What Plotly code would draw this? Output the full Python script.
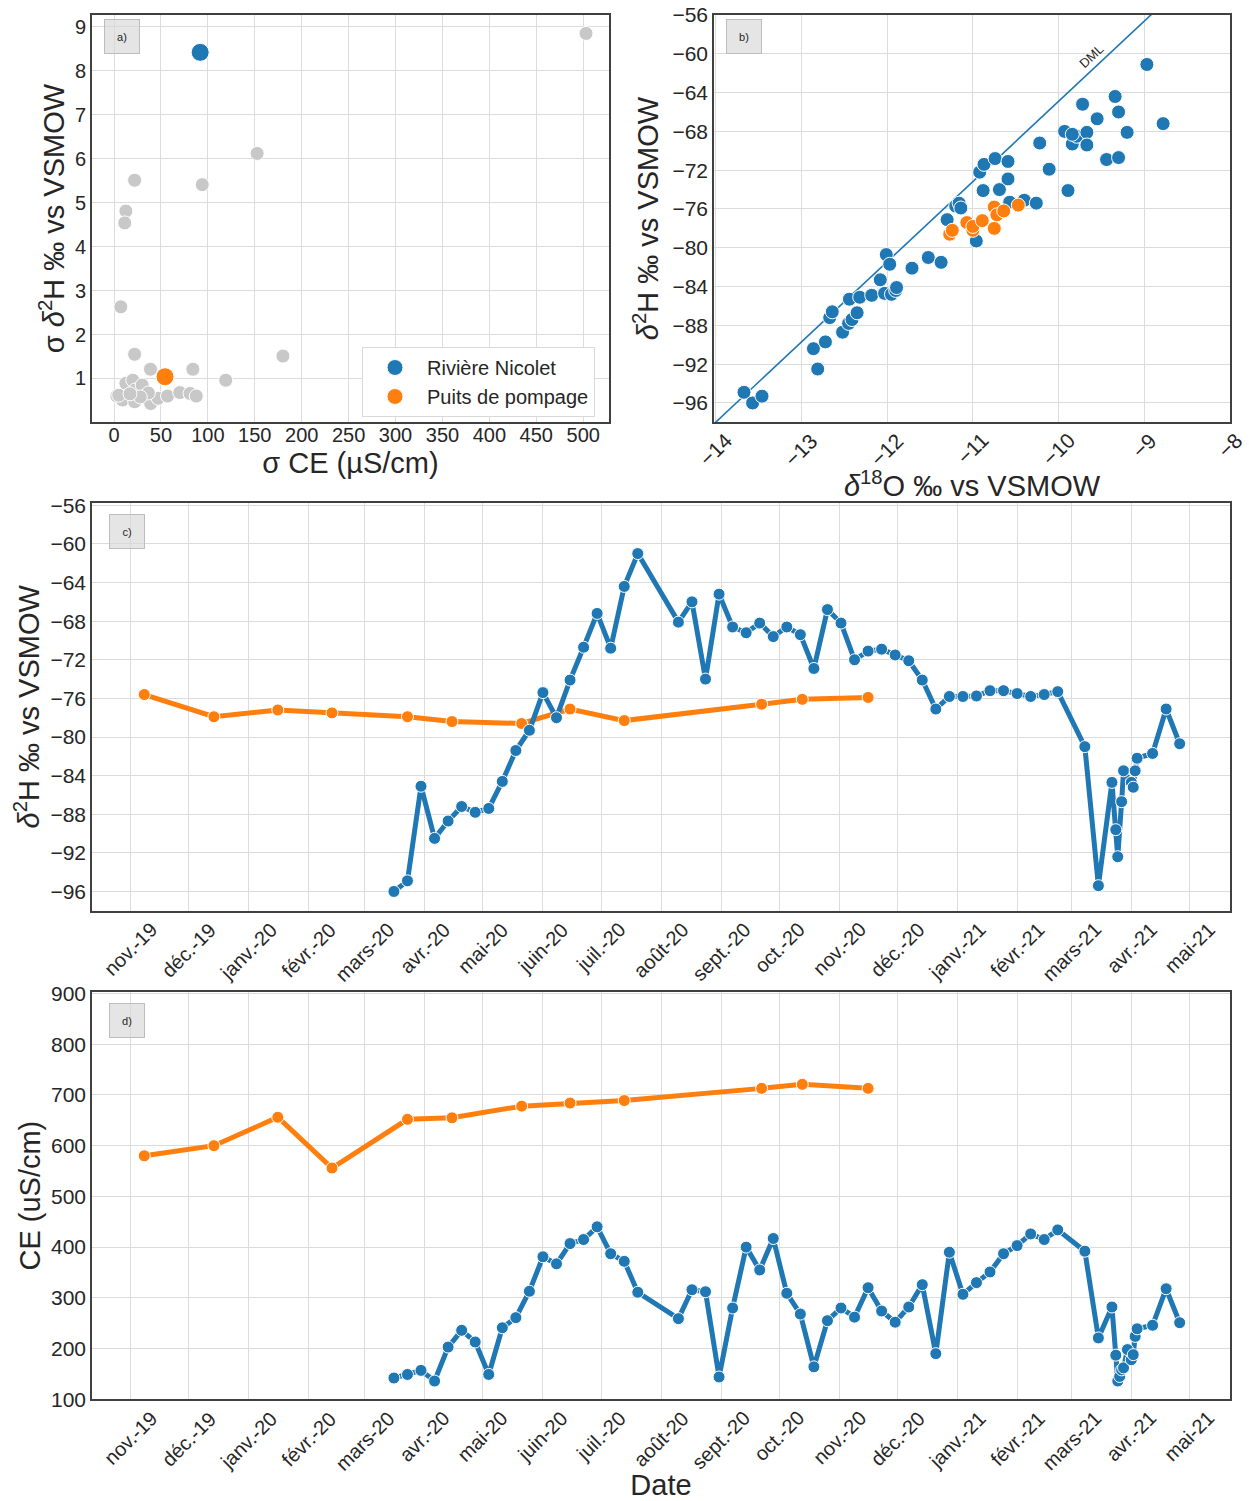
import plotly.graph_objects as go

# ---------------- data ----------------
# a) standard deviations per site (sigma CE, sigma d2H)
other_sd_ce = [503, 152.5, 21.9, 94, 12.6, 11.4, 7.2, 21.9, 180, 38.8, 84, 119,
               3, 12.6, 20, 22.7, 30, 11, 9, 22, 39, 47, 57, 70, 81, 87.6, 36.6, 28, 5, 17]
other_sd_h2 = [8.85, 6.12, 5.51, 5.41, 4.81, 4.54, 2.63, 1.55, 1.51, 1.21, 1.21, 0.96,
               0.60, 0.89, 0.96, 0.74, 0.85, 0.58, 0.51, 0.47, 0.43, 0.55, 0.60, 0.68, 0.66, 0.60, 0.67, 0.58, 0.62, 0.65]
river_sd_ce = [91.8]
river_sd_h2 = [8.42]
well_sd_ce = [54.3]
well_sd_h2 = [1.04]

# b) d18O / d2H pairs
river_o18 = [-13.67, -13.57, -13.46, -12.86, -12.72, -12.81, -12.67, -12.64, -12.52, -12.45,
             -12.41, -12.35, -12.44, -12.32, -12.18, -12.08, -12.01, -11.97, -12.03, -11.95,
             -11.90, -11.89, -11.71, -11.52, -11.37, -11.30, -11.20, -11.16, -11.14, -10.96,
             -10.92, -10.87, -10.74, -10.88, -10.69, -10.59, -10.59, -10.57, -10.40, -10.26,
             -10.22, -10.11, -9.93, -9.89, -9.84, -9.79, -9.84, -9.72, -9.67, -9.67,
             -9.55, -9.44, -9.34, -9.30, -9.30, -9.20, -8.97, -8.78]
river_h2 = [-94.9, -96.0, -95.3, -90.4, -89.7, -92.5, -87.2, -86.6, -88.7, -87.8,
            -87.4, -86.7, -85.3, -85.1, -84.9, -83.3, -80.7, -81.7, -84.7, -84.8,
            -84.4, -84.1, -82.1, -81.0, -81.5, -77.1, -75.7, -75.4, -75.9, -79.3,
            -72.2, -71.4, -70.8, -74.1, -74.0, -71.1, -72.9, -75.3, -75.1, -75.4,
            -69.2, -71.9, -68.0, -74.1, -69.3, -68.5, -68.3, -65.2, -68.1, -69.4,
            -66.7, -70.9, -64.4, -66.0, -70.7, -68.1, -61.1, -67.2]
well_o18 = [-11.27, -11.24, -11.07, -11.00, -11.00, -10.89, -10.75, -10.75, -10.72, -10.64, -10.47]
well_h2 = [-78.6, -78.2, -77.4, -78.2, -77.8, -77.2, -78.0, -75.8, -76.6, -76.2, -75.6]
o18_ticks = [-14, -13, -12, -11, -10, -9, -8]

# local meteoric water line (DML)
dml_slope = 8.27
dml_intercept = 17.8

# c) / d) time series
river_dates = ["2020-03-16", "2020-03-23", "2020-03-30", "2020-04-06", "2020-04-13", "2020-04-20",
               "2020-04-27", "2020-05-04", "2020-05-11", "2020-05-18", "2020-05-25", "2020-06-01",
               "2020-06-08", "2020-06-15", "2020-06-22", "2020-06-29", "2020-07-06", "2020-07-13",
               "2020-07-20", "2020-08-10", "2020-08-17", "2020-08-24", "2020-08-31", "2020-09-07",
               "2020-09-14", "2020-09-21", "2020-09-28", "2020-10-05", "2020-10-12", "2020-10-19",
               "2020-10-26", "2020-11-02", "2020-11-09", "2020-11-16", "2020-11-23", "2020-11-30",
               "2020-12-07", "2020-12-14", "2020-12-21", "2020-12-28", "2021-01-04", "2021-01-11",
               "2021-01-18", "2021-01-25", "2021-02-01", "2021-02-08", "2021-02-15", "2021-02-22",
               "2021-03-08", "2021-03-15", "2021-03-22", "2021-03-24", "2021-03-25", "2021-03-26",
               "2021-03-27", "2021-03-28", "2021-03-30", "2021-04-01", "2021-04-02", "2021-04-03",
               "2021-04-04", "2021-04-12", "2021-04-19", "2021-04-26"]
river_h2_ts = [-96.0, -94.9, -85.1, -90.5, -88.7, -87.2,
               -87.8, -87.4, -84.6, -81.4, -79.3, -75.4,
               -78.0, -74.1, -70.7, -67.2, -70.8, -64.4,
               -61.0, -68.1, -66.0, -74.0, -65.2, -68.6,
               -69.2, -68.2, -69.6, -68.6, -69.4, -72.9,
               -66.8, -68.2, -72.0, -71.1, -70.9, -71.5,
               -72.1, -74.1, -77.1, -75.8, -75.8, -75.75,
               -75.2, -75.2, -75.5, -75.8, -75.6, -75.3,
               -81.0, -95.4, -84.7, -89.6, -92.4, None,
               -86.7, -83.5, None, -84.7, -85.2, -83.5,
               -82.2, -81.7, -77.1, -80.7]
river_ce_ts = [142, 149, 157, 136, 203, 236,
               213, 149, 241, 261, 313, 381,
               367, 407, 415, 440, 387, 372,
               311, 259, 316, 312, 144, 280,
               400, 355, 417, 309, 268, 164,
               255, 280, 262, 320, 274, 252,
               282, 326, 190, 390, 307, 330,
               351, 387, 403, 426, 415, 434,
               392, 221, 282, 187, 136, 145,
               158, 162, 198, 178, 188, 224,
               239, 246, 318, 251]

well_dates = ["2019-11-08", "2019-12-14", "2020-01-16", "2020-02-13", "2020-03-23", "2020-04-15",
              "2020-05-21", "2020-06-15", "2020-07-13", "2020-09-22", "2020-10-13", "2020-11-16"]
well_h2_ts = [-75.6, -77.9, -77.2, -77.5, -77.9, -78.4, -78.6, -77.1, -78.3, -76.6, -76.1, -75.9]
well_ce_ts = [580, 600, 656, 556, 652, 655, 678, 684, 689, 713, 721, 713]

month_ticks = ["2019-11-01", "2019-12-01", "2020-01-01", "2020-02-01", "2020-03-01", "2020-04-01",
               "2020-05-01", "2020-06-01", "2020-07-01", "2020-08-01", "2020-09-01", "2020-10-01",
               "2020-11-01", "2020-12-01", "2021-01-01", "2021-02-01", "2021-03-01", "2021-04-01",
               "2021-05-01"]
month_labels = ["nov.-19", "déc.-19", "janv.-20", "févr.-20", "mars-20", "avr.-20", "mai-20",
                "juin-20", "juil.-20", "août-20", "sept.-20", "oct.-20", "nov.-20", "déc.-20",
                "janv.-21", "févr.-21", "mars-21", "avr.-21", "mai-21"]

# ---------------- style ----------------
BLUE = "#1f77b4"
ORANGE = "#ff7f0e"
GREY = "#c8c8c8"
TXT = "#262626"
FONT = "Liberation Sans, Arial, sans-serif"
W, H = 1249, 1501


def dom_x(x0, x1):
    return [x0 / W, x1 / W]


def dom_y(y0, y1):
    return [1 - y1 / H, 1 - y0 / H]


def axis_style(**kw):
    base = dict(showgrid=True, gridcolor="#dcdcdc", gridwidth=1, zeroline=False,
                showline=True, mirror=True, linecolor="#404040", linewidth=1.6,
                ticks="", automargin=False,
                tickfont=dict(family=FONT, size=20, color=TXT),
                title_font=dict(family=FONT, size=29, color=TXT))
    base.update(kw)
    return base


fig = go.Figure()

# a) scatter of standard deviations
fig.add_trace(go.Scatter(x=other_sd_ce, y=other_sd_h2, mode="markers", xaxis="x", yaxis="y",
                         marker=dict(size=14, color=GREY, line=dict(color="white", width=1)),
                         showlegend=False))
fig.add_trace(go.Scatter(x=river_sd_ce, y=river_sd_h2, mode="markers", xaxis="x", yaxis="y",
                         name="Rivière Nicolet",
                         marker=dict(size=18, color=BLUE, line=dict(color="white", width=1))))
fig.add_trace(go.Scatter(x=well_sd_ce, y=well_sd_h2, mode="markers", xaxis="x", yaxis="y",
                         name="Puits de pompage",
                         marker=dict(size=18, color=ORANGE, line=dict(color="white", width=1))))

# b) dual isotope plot with DML
b_xrange = [-14.02, -8.0]
fig.add_trace(go.Scatter(x=b_xrange, y=[dml_slope * v + dml_intercept for v in b_xrange],
                         mode="lines", xaxis="x2", yaxis="y2", showlegend=False,
                         line=dict(color=BLUE, width=1.6)))
fig.add_trace(go.Scatter(x=river_o18, y=river_h2, mode="markers", xaxis="x2", yaxis="y2",
                         showlegend=False,
                         marker=dict(size=14, color=BLUE, line=dict(color="white", width=1))))
fig.add_trace(go.Scatter(x=well_o18, y=well_h2, mode="markers", xaxis="x2", yaxis="y2",
                         showlegend=False,
                         marker=dict(size=14, color=ORANGE, line=dict(color="white", width=1))))

# c) d2H time series
fig.add_trace(go.Scatter(x=well_dates, y=well_h2_ts, mode="lines+markers", xaxis="x3", yaxis="y3",
                         showlegend=False, line=dict(color=ORANGE, width=5),
                         marker=dict(size=12, color=ORANGE, line=dict(color="white", width=1))))
fig.add_trace(go.Scatter(x=river_dates, y=river_h2_ts, mode="lines+markers", xaxis="x3", yaxis="y3",
                         showlegend=False, connectgaps=True, line=dict(color=BLUE, width=5),
                         marker=dict(size=12, color=BLUE, line=dict(color="white", width=1))))

# d) CE time series
fig.add_trace(go.Scatter(x=well_dates, y=well_ce_ts, mode="lines+markers", xaxis="x4", yaxis="y4",
                         showlegend=False, line=dict(color=ORANGE, width=5),
                         marker=dict(size=12, color=ORANGE, line=dict(color="white", width=1))))
fig.add_trace(go.Scatter(x=river_dates, y=river_ce_ts, mode="lines+markers", xaxis="x4", yaxis="y4",
                         showlegend=False, connectgaps=True, line=dict(color=BLUE, width=5),
                         marker=dict(size=12, color=BLUE, line=dict(color="white", width=1))))

date_range = ["2019-10-12", "2021-05-22"]
d2h_title = "<i>δ</i><sup>2</sup>H ‰ vs VSMOW"

fig.update_layout(
    width=W, height=H,
    margin=dict(l=0, r=0, t=0, b=0),
    paper_bgcolor="white", plot_bgcolor="white",
    font=dict(family=FONT, color=TXT),
    xaxis=axis_style(domain=dom_x(92, 609), anchor="y", range=[-23.5, 527.5],
                     tickvals=list(range(0, 501, 50)), ticklabelstandoff=-6,
                     title=dict(text="σ CE (µS/cm)", standoff=8)),
    yaxis=axis_style(domain=dom_y(15, 422), anchor="x", range=[0.01, 9.27],
                     tickvals=list(range(1, 10)),
                     title=dict(text="σ " + d2h_title, standoff=2)),
    xaxis2=axis_style(domain=dom_x(714, 1230), anchor="y2", range=b_xrange,
                      tickvals=o18_ticks, showticklabels=False,
                      title=dict(text="<i>δ</i><sup>18</sup>O ‰ vs VSMOW", standoff=53)),
    yaxis2=axis_style(domain=dom_y(15, 422), anchor="x2", range=[-97.96, -56.0],
                      tickvals=list(range(-96, -55, 4)),
                      tickfont=dict(family=FONT, size=21, color=TXT),
                      title=dict(text=d2h_title, standoff=5)),
    xaxis3=axis_style(domain=dom_x(92, 1230), anchor="y3", type="date", range=date_range,
                      tickvals=month_ticks, showticklabels=False),
    yaxis3=axis_style(domain=dom_y(503, 910.5), anchor="x3", range=[-97.97, -55.76],
                      tickvals=list(range(-96, -55, 4)),
                      tickfont=dict(family=FONT, size=21, color=TXT),
                      title=dict(text=d2h_title, standoff=2)),
    xaxis4=axis_style(domain=dom_x(92, 1230), anchor="y4", type="date", range=date_range,
                      tickvals=month_ticks, showticklabels=False,
                      title=dict(text="Date", standoff=75)),
    yaxis4=axis_style(domain=dom_y(992, 1399.3), anchor="x4", range=[100, 903],
                      tickvals=list(range(100, 901, 100)),
                      tickfont=dict(family=FONT, size=21, color=TXT),
                      title=dict(text="CE (uS/cm)", standoff=2)),
    legend=dict(x=362 / W, y=1 - 347 / H, xanchor="left", yanchor="top",
                bgcolor="white", bordercolor="#d9d9d9", borderwidth=1,
                font=dict(family=FONT, size=20, color=TXT), itemwidth=54),
)

# rotated, centred tick labels (b: d18O axis, c and d: months)
for v in o18_ticks:
    fig.add_annotation(text=f"−{abs(v)}", xref="x2", yref="y2 domain", x=v, y=0,
                       xanchor="center", yanchor="top", yshift=-4, textangle=-45,
                       showarrow=False, font=dict(family=FONT, size=21, color=TXT))
for ya, xa in (("y3", "x3"), ("y4", "x4")):
    for d, lab in zip(month_ticks, month_labels):
        fig.add_annotation(text=lab, xref=xa, yref=f"{ya} domain", x=d, y=0,
                           xanchor="center", yanchor="top", yshift=-5, textangle=-45,
                           showarrow=False, font=dict(family=FONT, size=20, color=TXT))

# panel letters in grey boxes
panel_boxes = [("a)", "x", "y", 12, 4), ("b)", "x2", "y2", 12, 4),
               ("c)", "x3", "y3", 17, 11), ("d)", "x4", "y4", 17, 11)]
for label, xa, ya, dx, dy in panel_boxes:
    fig.add_annotation(text=label, xref=f"{xa} domain", yref=f"{ya} domain", x=0, y=1,
                       xanchor="left", yanchor="top", xshift=dx, yshift=-dy, showarrow=False,
                       font=dict(family=FONT, size=11, color=TXT), width=28, height=27,
                       bgcolor="rgba(215,215,215,0.65)", bordercolor="#bdbdbd", borderwidth=1,
                       borderpad=3)

# DML label along the line
fig.add_annotation(text="DML", xref="x2", yref="y2", x=-9.62, y=-60.3, showarrow=False,
                   textangle=-43, font=dict(family=FONT, size=13, color=TXT))

fig.write_html("out.html")
